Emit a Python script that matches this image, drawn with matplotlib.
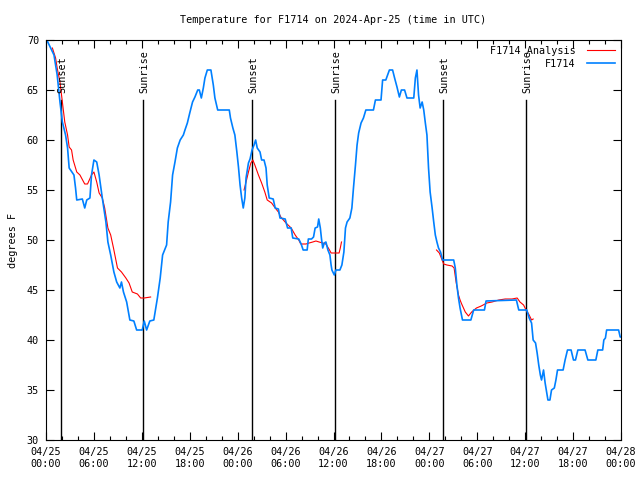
import numpy as np
import matplotlib.pyplot as plt
from datetime import datetime, timedelta

# hours since 2024-04-25 00:00 UTC
obs_hours = [0.1, 1.0, 1.4, 1.75, 2.05, 2.45, 2.7, 2.9, 3.5, 3.7, 3.85, 4.55, 4.85, 5.1, 5.5,
             5.7, 6.0, 6.35, 6.65, 7.05, 7.5, 7.75, 8.1, 8.5, 8.85, 9.25, 9.45, 9.7, 10.1, 10.5,
             11.0, 11.35, 12.05, 12.3, 12.6, 13.0, 13.5, 13.95, 14.3, 14.6, 15.1, 15.3, 15.6,
             15.85, 16.15, 16.45, 16.8, 17.2, 17.4, 17.7, 18.0, 18.35, 18.65, 19.0, 19.2, 19.45,
             19.7, 19.9, 20.2, 20.65, 20.95, 21.15, 21.5, 22.95, 23.1, 23.4, 23.65, 23.9, 24.1,
             24.3, 24.5, 24.7, 24.9, 25.05, 25.35, 25.55, 25.8, 26.05, 26.25, 26.45, 26.8, 27.0,
             27.3, 27.55, 27.7, 27.95, 28.45, 28.7, 29.1, 29.3, 29.95, 30.25, 30.7, 30.9, 31.65,
             31.95, 32.2, 32.7, 32.85, 33.25, 33.5, 33.7, 34.0, 34.15, 34.35, 34.5, 34.65, 34.85,
             35.05, 35.3, 35.55, 35.7, 35.8, 36.1, 36.3, 36.8, 37.05, 37.3, 37.5, 37.7, 38.05,
             38.3, 38.5, 38.75, 38.95, 39.15, 39.45, 39.75, 40.05, 40.3, 41.0, 41.25, 41.95,
             42.15, 42.55, 43.0, 43.4, 43.65, 43.95, 44.25, 44.5, 44.9, 45.2, 46.05, 46.25, 46.45,
             46.65, 46.85, 47.1, 47.3, 47.5, 47.7, 47.9, 48.1, 48.35, 48.55, 48.75, 48.95, 49.15,
             49.4, 49.6, 49.65, 51.05, 51.25, 51.45, 51.65, 51.85, 52.15, 53.2, 53.55, 54.9, 55.1,
             58.9, 59.2, 60.2, 60.5, 60.8, 61.0, 61.3, 61.5, 61.7, 61.9, 62.05, 62.3, 62.5, 62.7,
             62.85, 63.1, 63.3, 63.65, 63.85, 64.05, 64.75, 65.0, 65.3, 65.75, 66.05, 66.3, 66.6,
             67.5, 67.85, 68.85, 69.1, 69.7, 69.85, 70.05, 70.2, 71.7, 71.9, 72.0]
obs_temps = [70, 68.5, 66.5, 63.8, 61.8, 60.5, 59.2, 57.2, 56.5, 55.2, 54, 54.1, 53.2, 54, 54.2,
             56.5, 58, 57.8, 56.5, 54.2, 51.8, 49.8, 48.5, 46.8, 45.8, 45.2, 45.8, 44.8, 43.8, 42,
             41.9, 41, 41, 41.9, 41, 41.9, 42, 44.2, 46.2, 48.5, 49.5, 51.8, 53.8,
             56.5, 57.8, 59.2, 60, 60.5, 61, 61.7, 62.7, 63.8, 64.3, 65, 65, 64.2,
             65.2, 66.2, 67, 67, 65.5, 64.2, 63, 63, 62.2, 61.2, 60.5, 58.8, 57.3,
             55.5, 54.2, 53.2, 54.2, 56.2, 57.7, 58.1, 59, 59.5, 60, 59.2, 58.8, 58,
             58, 57.2, 55.5, 54.2, 54.1, 53.2, 53.1, 52.2, 52.1, 51.2, 51.2, 50.2, 50.1,
             49.6, 49, 49, 50.1, 50.1, 50.3, 51.2, 51.3, 52.1, 51.2, 50.1, 49.2, 49.7,
             49.8, 49, 48.5, 47.5, 47, 46.5, 47, 47, 47.5, 48.8, 51.2, 51.8, 52.2,
             53.2, 55.2, 57.5, 59.5, 60.7, 61.7, 62.2, 63, 63, 63, 64, 64,
             66, 66, 67, 67, 66.2, 65.3, 64.3, 65, 65, 64.2, 64.2, 66.2, 67,
             64.5, 63.2, 63.8, 63, 61.7, 60.5, 57.2, 54.8, 53.2, 51.8, 50.5, 49.8, 49.2,
             48.8, 48.2, 48, 48, 47.2, 45.5, 44.2, 43.2, 42, 42, 43, 43, 43.9,
             44, 43, 43, 42.2, 41.7, 40, 39.7, 38.7, 37.5, 36.5, 36, 37, 35.7, 34.7,
             34, 34, 35, 35.2, 36, 37, 37, 38, 39, 39, 38, 38, 39,
             39, 38, 38, 39, 39, 40, 40.2, 41, 41, 40.3, 40.3]

# analysis series, NaN marks the gaps between runs
ana_hours = [0.8, 1.2, 1.4, 1.75, 2.05, 2.35, 2.7, 2.9, 3.2, 3.4, 3.85, 4.25, 4.85, 5.2, 5.7,
             6.0, 6.35, 6.65, 7.05, 7.35, 7.75, 8.1, 8.45, 8.7, 8.95, 9.45, 10.0, 10.4, 10.8,
             11.45, 11.85, 12.3, 13.1, np.nan,
             24.8, 25.05, 25.35, 25.65, 25.9, 26.15, 26.6, 27.0, 27.4, 27.7, 28.25, 28.7, 29.1,
             29.4, 30.05, 30.7, 31.2, 31.65, 31.9, 32.55, 32.95, 33.4, 33.8, 34.2, 34.65, 35.05,
             35.5, 35.7, 36.7, 36.85, 37.0, np.nan,
             48.9, 49.25, 49.6, 49.8, 50.2, 50.85, 51.1, 51.35, 51.65, 51.85, 52.05, 52.5, 52.9,
             53.3, 53.9, 54.5, 55.2, 55.85, 56.7, 57.5, 58.35, 59.0, 59.35, 59.8, 60.05, 60.5,
             60.8, 61.0]
ana_temps = [69.2, 68.2, 67.2, 65.8, 63.8, 61.8, 60.5, 59.3, 59, 58, 56.8, 56.5, 55.6, 55.6, 56.5,
             56.8, 55.8, 54.7, 54.2, 53.2, 51.2, 50.5, 49.2, 48.2, 47.2, 46.8, 46.2, 45.7, 44.8,
             44.6, 44.2, 44.2, 44.3, np.nan,
             55, 55.8, 56.8, 57.7, 58, 57.5, 56.5, 55.7, 54.8, 54, 53.7, 53.2, 52.8,
             52.3, 51.7, 51.2, 50.5, 50, 49.6, 49.6, 49.7, 49.8, 49.9, 49.8, 49.7, 49.6,
             49, 48.7, 48.7, 49.2, 49.8, np.nan,
             49, 48.7, 48, 47.6, 47.5, 47.4, 47.2, 45.8, 44.5, 44, 43.6, 42.8, 42.4,
             42.8, 43.2, 43.4, 43.7, 43.8, 44, 44.1, 44.1, 44.2, 43.8, 43.5, 43.1, 42.5,
             42, 42.1]

sun_hours = [1.88, 12.15, 25.8, 36.19, 49.7, 60.1]
sun_labels = ['Sunset', 'Sunrise', 'Sunset', 'Sunrise', 'Sunset', 'Sunrise']

start = datetime(2024, 4, 25)
mono = 'DejaVu Sans Mono'
plt.rcParams['font.family'] = mono
plt.rcParams['font.size'] = 7

fig = plt.figure(figsize=(6.4, 4.8), dpi=100)
ax = fig.add_axes([46/640, 40/480, 575/640, 400/480])

for h, lab in zip(sun_hours, sun_labels):
    ax.plot([h, h], [30, 64], color='black', lw=1.0)
    ax.text(h + 0.15, 64.7, lab, rotation=90, ha='center', va='bottom', fontsize=7.3)

ax.plot(ana_hours, ana_temps, color='#ff0000', lw=0.8, label='F1714 Analysis')
ax.plot(obs_hours, obs_temps, color='#0080ff', lw=1.2, label='F1714')

ax.set_xlim(0, 72)
ax.set_ylim(30, 70)
ax.set_xticks(np.arange(0, 73, 6))
ax.set_xticks(np.arange(0, 73, 2), minor=True)
ax.set_xticklabels([(start + timedelta(hours=int(h))).strftime('%m/%d\n%H:%M')
                    for h in np.arange(0, 73, 6)])
ax.set_yticks(np.arange(30, 71, 5))
ax.tick_params(which='both', direction='in', top=True, right=True, width=0.8)
ax.tick_params(which='major', length=6, pad=5)
ax.tick_params(which='minor', length=3)
ax.tick_params(axis='x', labelsize=7.3)
ax.tick_params(axis='y', labelsize=7.3)
for s in ax.spines.values():
    s.set_linewidth(0.8)

ax.set_ylabel('degrees F', fontsize=7.3, labelpad=6)
ax.set_title('Temperature for F1714 on 2024-Apr-25 (time in UTC)', fontsize=7.3, pad=12)

ax.legend(loc='upper right', frameon=False, markerfirst=False, fontsize=7.3,
          handlelength=2.8, borderaxespad=0.15, labelspacing=0.3, handletextpad=1.1)

fig.savefig('out.png', dpi=100)
